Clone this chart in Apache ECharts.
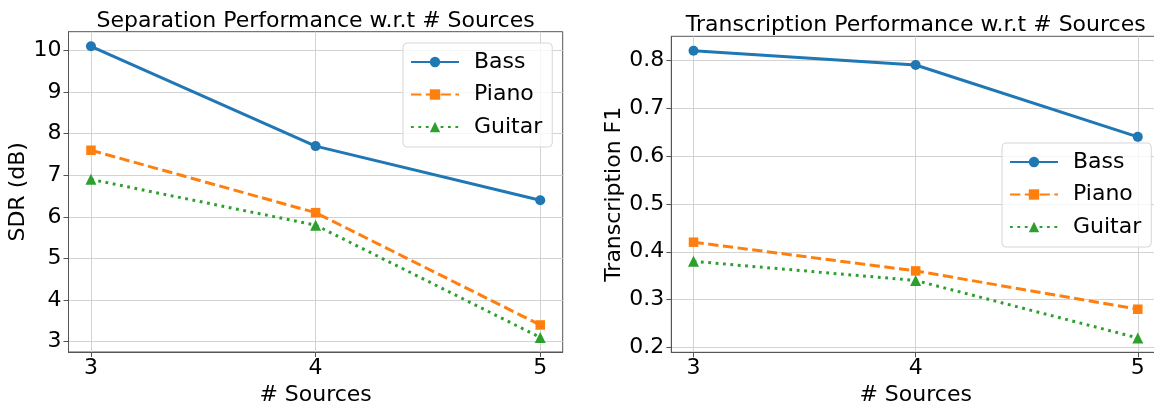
<!DOCTYPE html>
<html>
<head>
<meta charset="utf-8">
<script src="https://cdn.jsdelivr.net/npm/echarts@6/dist/echarts.min.js"></script>
<style>
  html, body { margin: 0; padding: 0; background: #fff; }
  #chart { width: 1154px; height: 402px; }
</style>
</head>
<body>
<div id="chart"></div>
<script>
// Number of mixed sources on the x axis
const sources = [3, 4, 5];

// Separation quality (SDR, dB)
const sdrBass = [10.1, 7.7, 6.4];
const sdrPiano = [7.6, 6.1, 3.4];
const sdrGuitar = [6.9, 5.8, 3.1];

// Transcription quality (F1)
const f1Bass = [0.82, 0.79, 0.64];
const f1Piano = [0.42, 0.36, 0.28];
const f1Guitar = [0.38, 0.34, 0.22];

// Tick labels
const sourceTicks = [3, 4, 5];
const sdrTicks = [3, 4, 5, 6, 7, 8, 9, 10];
const f1Ticks = [0.2, 0.3, 0.4, 0.5, 0.6, 0.7, 0.8];

const instruments = ['Bass', 'Piano', 'Guitar'];
const titles = ['Separation Performance w.r.t # Sources', 'Transcription Performance w.r.t # Sources'];

const FONT = 'DejaVu Sans';
const SPINE = '#555555';
const GRIDLINE = '#d3d3d3';

const styles = {
  Bass:   { color: '#1f77b4', type: 'solid',     symbol: 'circle',   size: 10 },
  Piano:  { color: '#ff7f0e', type: [10.3, 4.5], symbol: 'rect',     size: 9.5 },
  Guitar: { color: '#2ca02c', type: [2.8, 4.6],  symbol: 'triangle', size: 11 }
};

function pairs(ys) {
  return sources.map((x, i) => [x, ys[i]]);
}

function makeSeries(name, ys, idx) {
  const s = styles[name];
  return {
    name: name,
    type: 'line',
    xAxisIndex: idx,
    yAxisIndex: idx,
    data: pairs(ys),
    symbol: s.symbol,
    symbolSize: s.size,
    showSymbol: true,
    clip: false,
    itemStyle: { color: s.color },
    lineStyle: { color: s.color, width: 3, type: s.type, cap: 'butt' },
    emphasis: { disabled: true }
  };
}

function xAxis(idx) {
  return {
    type: 'value',
    gridIndex: idx,
    min: 2.9,
    max: 5.1,
    name: '# Sources',
    nameLocation: 'middle',
    nameGap: idx === 0 ? 29 : 28,
    nameTextStyle: { fontFamily: FONT, fontSize: 22, color: '#000' },
    axisLine: { show: true, lineStyle: { color: SPINE, width: 1 } },
    axisTick: { show: true, length: 5, lineStyle: { color: SPINE }, customValues: sourceTicks },
    axisLabel: { fontFamily: FONT, fontSize: 22, color: '#000', margin: 5, customValues: sourceTicks,
                 formatter: v => String(v) },
    splitLine: { show: true, lineStyle: { color: GRIDLINE, width: 1 } }
  };
}

function yAxis(idx, ticks, lo, hi, name, gap, fmt) {
  return {
    type: 'value',
    gridIndex: idx,
    min: lo,
    max: hi,
    name: name,
    nameLocation: 'middle',
    nameGap: gap,
    nameTextStyle: { fontFamily: FONT, fontSize: 22, color: '#000' },
    axisLine: { show: true, lineStyle: { color: SPINE, width: 1 } },
    axisTick: { show: true, length: 5, lineStyle: { color: SPINE }, customValues: ticks },
    axisLabel: { fontFamily: FONT, fontSize: 22, color: '#000', margin: 7, customValues: ticks,
                 formatter: fmt },
    splitLine: { show: true, lineStyle: { color: GRIDLINE, width: 1 } }
  };
}

function legend(left, top) {
  return {
    orient: 'vertical',
    left: left,
    top: top,
    data: instruments,
    itemWidth: 48,
    itemHeight: 13,
    itemGap: 10.5,
    padding: [8, 10, 9, 7],
    backgroundColor: 'rgba(255,255,255,0.8)',
    borderColor: '#d6d6d6',
    borderWidth: 1,
    borderRadius: 4,
    selectedMode: false,
    textStyle: { fontFamily: FONT, fontSize: 22, color: '#000', padding: [0, 0, 0, 10] }
  };
}

const chart = echarts.init(document.getElementById('chart'), null, { renderer: 'canvas' });

chart.setOption({
  animation: false,
  backgroundColor: '#fff',
  title: [
    { text: titles[0], left: 315.6, top: 10, textAlign: 'center', padding: 0,
      textStyle: { fontFamily: FONT, fontSize: 22, fontWeight: 'normal', color: '#000' } },
    { text: titles[1], left: 915.7, top: 14, textAlign: 'center', padding: 0,
      textStyle: { fontFamily: FONT, fontSize: 22, fontWeight: 'normal', color: '#000' } }
  ],
  grid: [
    { left: 68.5, top: 31.7, width: 494.2, height: 320.3, outerBoundsMode: 'none', containLabel: false,
      show: true, borderColor: SPINE, borderWidth: 1, backgroundColor: 'transparent' },
    { left: 671.3, top: 36.3, width: 488.7, height: 316, outerBoundsMode: 'none', containLabel: false,
      show: true, borderColor: SPINE, borderWidth: 1, backgroundColor: 'transparent' }
  ],
  xAxis: [xAxis(0), xAxis(1)],
  yAxis: [
    yAxis(0, sdrTicks, 2.75, 10.45, 'SDR (dB)', 37, v => String(v)),
    yAxis(1, f1Ticks, 0.19, 0.85, 'Transcription F1', 42, v => v.toFixed(1))
  ],
  legend: [legend(403, 43), legend(1002, 143)],
  series: [
    makeSeries('Bass', sdrBass, 0),
    makeSeries('Piano', sdrPiano, 0),
    makeSeries('Guitar', sdrGuitar, 0),
    makeSeries('Bass', f1Bass, 1),
    makeSeries('Piano', f1Piano, 1),
    makeSeries('Guitar', f1Guitar, 1)
  ]
});
</script>
</body>
</html>
